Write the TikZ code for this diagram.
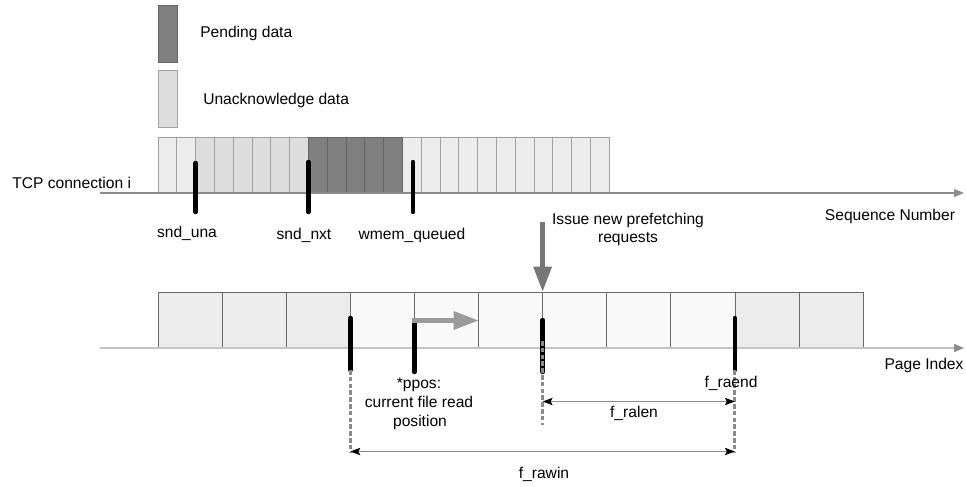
\documentclass[tikz,border=0pt]{standalone}
\usepackage{fontspec}
\setmainfont{Liberation Sans}
\usetikzlibrary{arrows.meta}

\definecolor{pendfill}{HTML}{808080}
\definecolor{pendline}{HTML}{646464}
\definecolor{unackfill}{HTML}{DDDDDD}
\definecolor{lightfill}{HTML}{ECECEC}
\definecolor{palefill}{HTML}{F9F9F9}
\definecolor{cellline}{HTML}{A0A0A0}
\definecolor{pageline}{HTML}{6A6A6A}
\definecolor{axisgray}{HTML}{8C8C8C}
\definecolor{axislight}{HTML}{C4C4C4}
\definecolor{dashgray}{HTML}{8A8A8A}
\definecolor{movegray}{HTML}{9A9A9A}
\definecolor{issuegray}{HTML}{777777}

\tikzset{
  lbl/.style={font=\fontsize{11.7}{14}\selectfont, inner sep=0pt, text=black},
  seqcell/.style={draw=cellline, line width=0.6pt},
  pendcell/.style={draw=pendline, fill=pendfill, line width=0.6pt},
  pagecell/.style={draw=pageline, line width=0.6pt},
  seqaxis/.style={draw=axisgray, line width=0.8pt, -{Triangle[length=7.5pt, width=6pt]}},
  pageaxis/.style={draw=axislight, line width=1.2pt, -{Triangle[length=7.5pt, width=6pt, color=axisgray]}},
  pointer/.style={draw=black, line width=3.3pt, line cap=round},
  guide/.style={draw=dashgray, line width=2.2pt, dash pattern=on 3.5pt off 1.6pt},
  span/.style={draw=axisgray, line width=0.8pt,
    {Stealth[length=7.5pt, width=5.5pt, inset=1.5pt, color=black]}-{Stealth[length=7.5pt, width=5.5pt, inset=1.5pt, color=black]}},
  fatarrow/.style={line width=3.8pt, -{Triangle[length=19pt, width=13pt]}},
}

\begin{document}
\begin{tikzpicture}[x=0.75pt, y=-0.75pt]
\useasboundingbox (0,0) rectangle (966,486);

% ---- legend ----
\draw[pendcell] (158,5) rectangle (177,62);
\draw[seqcell, fill=unackfill] (158,70) rectangle (177,127);
\node[lbl, anchor=base west] (legpend) at (200,37) {Pending data};
\node[lbl, anchor=base west] (legunack) at (203,104) {Unacknowledge data};

% ---- TCP send buffer (sequence space) ----
\foreach \i in {0,1}
  \draw[seqcell, fill=lightfill] ({158+\i*18.8},137) rectangle ++(18.8,56);
\foreach \i in {2,...,7}
  \draw[seqcell, fill=unackfill] ({158+\i*18.8},137) rectangle ++(18.8,56);
\foreach \i in {13,...,23}
  \draw[seqcell, fill=lightfill] ({158+\i*18.8},137) rectangle ++(18.8,56);
\foreach \i in {8,...,12}
  \draw[pendcell] ({158+\i*18.8},137) rectangle ++(18.8,56);

\coordinate (seqstart) at (100,193);
\coordinate (seqend) at (964,193);
\draw[seqaxis] (seqstart) -- (seqend);
\node[lbl, anchor=base west] (tcpconn) at (12,188) {TCP connection i};
\node[lbl, anchor=base] (seqlabel) at (890,220) {Sequence Number};

% sequence pointers
\coordinate (unaTop) at (195.6,163);  \coordinate (unaBot) at (195.6,212);
\coordinate (nxtTop) at (308.4,162);  \coordinate (nxtBot) at (308.4,212);
\coordinate (wmemTop) at (413,162);   \coordinate (wmemBot) at (413,212);
\draw[pointer] (unaTop) -- (unaBot);
\draw[pointer] (nxtTop) -- (nxtBot);
\draw[pointer] (wmemTop) -- (wmemBot);
\node[lbl, anchor=base] (snduna) at (187,237) {snd\_una};
\node[lbl, anchor=base] (sndnxt) at (304,239) {snd\_nxt};
\node[lbl, anchor=base] (wmem) at (412,239) {wmem\_queued};

% ---- page cache (page index space) ----
\foreach \i/\c in {0/lightfill,1/lightfill,2/lightfill,3/palefill,4/palefill,5/palefill,6/palefill,7/palefill,8/palefill,9/lightfill,10/lightfill}
  \draw[pagecell, fill=\c] ({158+\i*64.1},292) rectangle ++(64.1,56);

\coordinate (pagestart) at (100,348);
\coordinate (pageend) at (964,348);
\draw[pageaxis] (pagestart) -- (pageend);
\node[lbl, anchor=base] (pagelabel) at (924,369) {Page Index};

% page pointers
\coordinate (winTop) at (350.3,318);   \coordinate (winBot) at (350.3,370);
\coordinate (posTop) at (414.4,321);   \coordinate (posBot) at (414.4,372);
\coordinate (raTop) at (542.6,320);    \coordinate (raBot) at (542.6,372);
\coordinate (endTop) at (734.9,318);   \coordinate (endBot) at (734.9,370);
\draw[pointer] (winTop) -- (winBot);
\draw[pointer] (posTop) -- (posBot);
\draw[pointer] (raTop) -- (raBot);
\draw[pointer] (endTop) -- (endBot);

% dashed guides down to the span arrows
\coordinate (winLow) at (350.3,452);
\coordinate (raMid) at (542.6,341);
\coordinate (raLow) at (542.6,425);
\coordinate (endLow) at (734.9,452);
\draw[guide] (winBot) -- (winLow);
\draw[guide] (raMid) -- (raLow);
\draw[guide] (endBot) -- (endLow);

% read position advancing
\coordinate (moveFrom) at (412,320.5);
\coordinate (moveTo) at (479,320.5);
\draw[fatarrow, draw=movegray, fill=movegray] (moveFrom) -- (moveTo);

% prefetch trigger
\coordinate (issueFrom) at (542.6,222);
\coordinate (issueTo) at (542.6,292);
\draw[fatarrow, draw=issuegray, fill=issuegray] (issueFrom) -- (issueTo);
\node[lbl, anchor=base] (issue1) at (628,224) {Issue new prefetching};
\node[lbl, anchor=base] (issue2) at (628,242) {requests};

% labels below the page axis
\node[lbl, anchor=base] (ppos1) at (419,388) {*ppos:};
\node[lbl, anchor=base] (ppos2) at (419,407) {current file read};
\node[lbl, anchor=base] (ppos3) at (420,426) {position};
\node[lbl, anchor=base] (raend) at (731,387) {f\_raend};

% read-ahead spans
\coordinate (ralenL) at (542.6,401.5);
\coordinate (ralenR) at (734.9,401.5);
\coordinate (rawinL) at (350.3,451.5);
\coordinate (rawinR) at (734.9,451.5);
\draw[span] (ralenL) -- (ralenR);
\draw[span] (rawinL) -- (rawinR);
\node[lbl, anchor=base] (ralen) at (634,417) {f\_ralen};
\node[lbl, anchor=base] (rawin) at (544,478) {f\_rawin};
\end{tikzpicture}
\end{document}
